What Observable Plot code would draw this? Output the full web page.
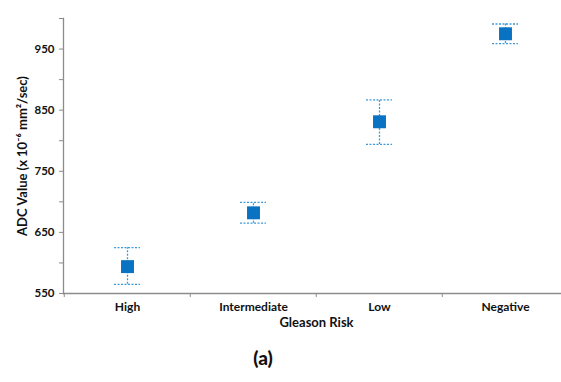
<!DOCTYPE html>
<html>
<head>
<meta charset="utf-8">
<script src="https://cdn.jsdelivr.net/npm/d3@7"></script>
<script src="https://cdn.jsdelivr.net/npm/@observablehq/plot@0.6"></script>
<style>
  html, body { margin: 0; padding: 0; background: #fff; }
  #chart { width: 561px; }
  .cap { width: 561px; height: 42px; position: relative; font-family: Lato, "Open Sans", sans-serif; }
  .cap span { position: absolute; left: 263px; top: 6px; transform: translateX(-50%); font-size: 19px; font-weight: 900; color: #111; }
</style>
</head>
<body>
<div id="chart"></div>
<div class="cap"><span>(a)</span></div>
<script>
const categories = ["High", "Intermediate", "Low", "Negative"];
const means = [594, 682, 831, 975];
const upper = [625, 699, 867, 991];
const lower = [565, 665, 794, 959];
const yTicks = [550, 600, 650, 700, 750, 800, 850, 900, 950, 1000];
const yLabels = [550, 650, 750, 850, 950];
const yTitle = "ADC Value (x 10⁻⁶ mm²/sec)";
const xTitle = "Gleason Risk";

const data = categories.map((c, i) => ({cat: c, mean: means[i], hi: upper[i], lo: lower[i]}));

const axisColor = "#8c8c8c";
const errColor = "#3b9ad9";
const fontFam = "Lato, 'DejaVu Sans', sans-serif";

const plot = Plot.plot({
  width: 561,
  height: 340,
  marginLeft: 63,
  marginTop: 18,
  marginBottom: 47,
  marginRight: -8,
  style: {fontFamily: fontFam, fontSize: "11.5px", fontWeight: "bold", color: "#111", background: "#fff"},
  x: {domain: categories, padding: 0},
  y: {domain: [550, 1000]},
  marks: [
    Plot.frame({anchor: "left", stroke: axisColor, strokeWidth: 1.3}),
    Plot.ruleY([550], {stroke: axisColor, strokeWidth: 1.3}),
    Plot.ruleX(categories, {x: d => d, y1: 550, y2: 543.5, dx: -63.25, stroke: axisColor}),
    Plot.axisY({ticks: yTicks, tickFormat: d => yLabels.includes(d) ? String(d) : "", tickSize: 4, tickPadding: 5, stroke: axisColor, label: null}),
    Plot.text([yTitle], {text: d => d, frameAnchor: "left", textAnchor: "middle", rotate: -90, dx: -41, fontSize: 13, fontWeight: "bold", fill: "#111"}),
    Plot.axisX({tickSize: 0, tickPadding: 9, fontSize: 12, label: null}),
    Plot.text([xTitle], {text: d => d, frameAnchor: "bottom", textAnchor: "middle", dy: 33, fontSize: 13, fontWeight: "bold", fill: "#111"}),
    Plot.ruleX(data, {x: "cat", y1: "lo", y2: "hi", stroke: errColor, strokeWidth: 1.3, strokeDasharray: "2,1.5"}),
    Plot.tickY(data, {x: "cat", y: "hi", stroke: errColor, strokeWidth: 1.3, strokeDasharray: "2,1.5", insetLeft: 50, insetRight: 50}),
    Plot.tickY(data, {x: "cat", y: "lo", stroke: errColor, strokeWidth: 1.3, strokeDasharray: "2,1.5", insetLeft: 50, insetRight: 50}),
    Plot.dot(data, {x: "cat", y: "mean", symbol: "square", r: 7.3, fill: "#0a72c2", stroke: "none"})
  ]
});
document.getElementById("chart").appendChild(plot);
</script>
</body>
</html>
